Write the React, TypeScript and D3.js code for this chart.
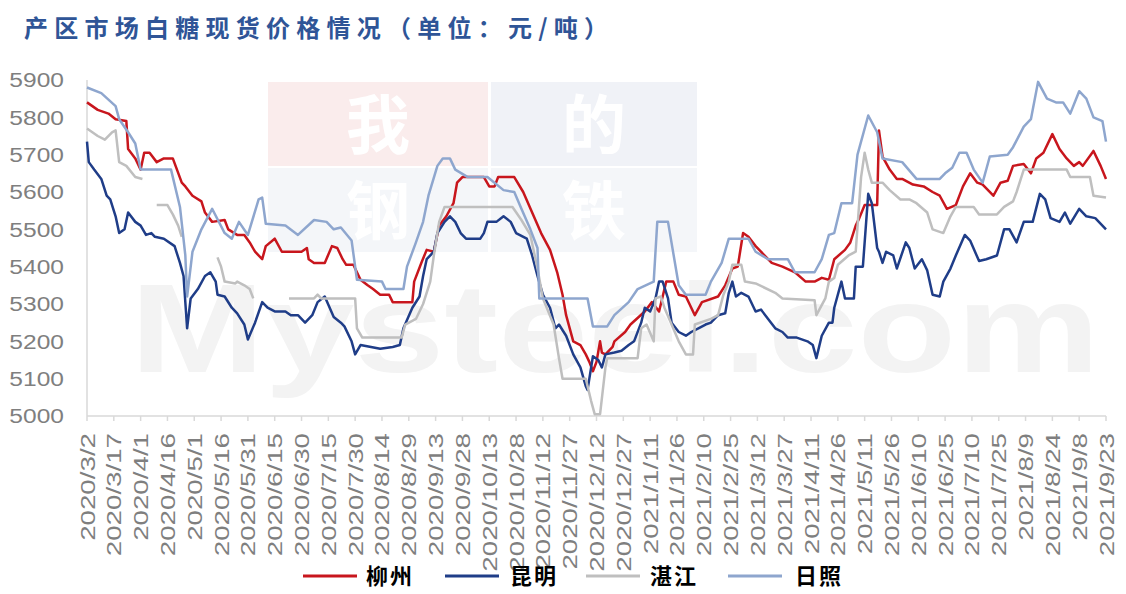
import React from "react";
import * as d3 from "d3";

type Pt = [string, number | null];

const title = "产区市场白糖现货价格情况（单位：元/吨）";
const seriesNames = ["柳州", "昆明", "湛江", "日照"];
const seriesColors = ["#C8161D", "#1F3D88", "#BFBFBF", "#8EA6CE"];
const yTicks = [5000, 5100, 5200, 5300, 5400, 5500, 5600, 5700, 5800, 5900];
const xTickLabels = [
  "2020/3/2", "2020/3/17", "2020/4/1", "2020/4/16", "2020/5/1", "2020/5/16", "2020/5/31",
  "2020/6/15", "2020/6/30", "2020/7/15", "2020/7/30", "2020/8/14", "2020/8/29", "2020/9/13",
  "2020/9/28", "2020/10/13", "2020/10/28", "2020/11/12", "2020/11/27", "2020/12/12",
  "2020/12/27", "2021/1/11", "2021/1/26", "2021/2/10", "2021/2/25", "2021/3/12", "2021/3/27",
  "2021/4/11", "2021/4/26", "2021/5/11", "2021/5/26", "2021/6/10", "2021/6/25", "2021/7/10",
  "2021/7/25", "2021/8/9", "2021/8/24", "2021/9/8", "2021/9/23",
];
const watermarkChars = ["我", "的", "钢", "铁"];
const watermarkText = "Mysteel.com";

const liuzhou: Pt[] = [
  ["2020/3/2",5840],["2020/3/8",5820],["2020/3/14",5810],["2020/3/18",5795],["2020/3/24",5790],["2020/3/25",5715],["2020/3/29",5690],["2020/4/1",5660],["2020/4/3",5705],["2020/4/6",5705],["2020/4/10",5680],["2020/4/14",5690],["2020/4/19",5690],["2020/4/24",5625],["2020/4/26",5615],["2020/4/30",5590],["2020/5/5",5575],["2020/5/7",5545],["2020/5/11",5520],["2020/5/18",5525],["2020/5/20",5500],["2020/5/25",5485],["2020/5/29",5485],["2020/6/1",5465],["2020/6/4",5440],["2020/6/8",5420],["2020/6/10",5455],["2020/6/15",5475],["2020/6/19",5440],["2020/6/30",5440],["2020/7/3",5450],["2020/7/4",5420],["2020/7/7",5410],["2020/7/13",5410],["2020/7/17",5455],["2020/7/20",5450],["2020/7/23",5420],["2020/7/25",5405],["2020/7/29",5405],["2020/8/2",5365],["2020/8/6",5350],["2020/8/9",5340],["2020/8/13",5325],["2020/8/18",5325],["2020/8/20",5305],["2020/8/31",5305],["2020/9/1",5360],["2020/9/5",5410],["2020/9/8",5445],["2020/9/12",5440],["2020/9/15",5510],["2020/9/19",5535],["2020/9/23",5570],["2020/9/25",5625],["2020/9/28",5640],["2020/10/10",5640],["2020/10/13",5615],["2020/10/16",5615],["2020/10/18",5640],["2020/10/27",5640],["2020/11/1",5600],["2020/11/6",5545],["2020/11/11",5490],["2020/11/16",5445],["2020/11/20",5385],["2020/11/23",5325],["2020/11/25",5270],["2020/11/29",5200],["2020/12/3",5190],["2020/12/6",5165],["2020/12/8",5145],["2020/12/10",5120],["2020/12/12",5145],["2020/12/14",5200],["2020/12/15",5170],["2020/12/17",5165],["2020/12/21",5185],["2020/12/22",5200],["2020/12/28",5225],["2020/12/31",5245],["2021/1/8",5280],["2021/1/12",5305],["2021/1/16",5280],["2021/1/20",5360],["2021/1/24",5360],["2021/1/27",5325],["2021/1/31",5320],["2021/2/5",5270],["2021/2/9",5305],["2021/2/18",5320],["2021/2/22",5350],["2021/2/26",5395],["2021/3/1",5400],["2021/3/4",5490],["2021/3/7",5480],["2021/3/11",5455],["2021/3/14",5440],["2021/3/20",5410],["2021/3/26",5400],["2021/4/2",5385],["2021/4/8",5360],["2021/4/13",5360],["2021/4/17",5370],["2021/4/21",5365],["2021/4/24",5420],["2021/4/30",5445],["2021/5/3",5465],["2021/5/6",5510],["2021/5/8",5530],["2021/5/11",5565],["2021/5/18",5565],["2021/5/19",5765],["2021/5/21",5695],["2021/5/25",5660],["2021/5/29",5635],["2021/6/1",5635],["2021/6/7",5620],["2021/6/13",5615],["2021/6/18",5600],["2021/6/22",5590],["2021/6/26",5555],["2021/7/1",5565],["2021/7/5",5615],["2021/7/9",5650],["2021/7/13",5625],["2021/7/16",5620],["2021/7/22",5590],["2021/7/26",5625],["2021/7/30",5630],["2021/8/2",5670],["2021/8/8",5675],["2021/8/12",5650],["2021/8/15",5690],["2021/8/19",5705],["2021/8/24",5755],["2021/8/28",5715],["2021/9/1",5690],["2021/9/5",5670],["2021/9/8",5680],["2021/9/10",5670],["2021/9/16",5710],["2021/9/20",5670],["2021/9/23",5635],
];

const kunming: Pt[] = [
  ["2020/3/2",5735],["2020/3/3",5680],["2020/3/6",5660],["2020/3/10",5635],["2020/3/13",5590],["2020/3/15",5580],["2020/3/18",5535],["2020/3/20",5490],["2020/3/23",5500],["2020/3/25",5545],["2020/3/29",5520],["2020/4/1",5510],["2020/4/4",5485],["2020/4/7",5490],["2020/4/9",5480],["2020/4/14",5475],["2020/4/20",5455],["2020/4/23",5410],["2020/4/25",5375],["2020/4/27",5235],["2020/4/29",5315],["2020/5/3",5340],["2020/5/7",5375],["2020/5/10",5385],["2020/5/13",5360],["2020/5/14",5325],["2020/5/18",5320],["2020/5/22",5290],["2020/5/25",5275],["2020/5/29",5245],["2020/5/31",5205],["2020/6/4",5250],["2020/6/8",5305],["2020/6/11",5290],["2020/6/15",5280],["2020/6/21",5280],["2020/6/24",5270],["2020/6/28",5270],["2020/7/2",5250],["2020/7/6",5270],["2020/7/9",5305],["2020/7/13",5320],["2020/7/18",5265],["2020/7/22",5250],["2020/7/24",5240],["2020/7/28",5200],["2020/7/30",5165],["2020/8/2",5190],["2020/8/13",5180],["2020/8/20",5185],["2020/8/24",5190],["2020/8/26",5235],["2020/8/31",5290],["2020/9/4",5320],["2020/9/6",5375],["2020/9/8",5420],["2020/9/12",5440],["2020/9/14",5490],["2020/9/18",5520],["2020/9/21",5535],["2020/9/24",5520],["2020/9/27",5490],["2020/9/30",5475],["2020/10/8",5475],["2020/10/10",5490],["2020/10/12",5520],["2020/10/17",5520],["2020/10/21",5535],["2020/10/25",5520],["2020/10/28",5490],["2020/11/3",5475],["2020/11/6",5430],["2020/11/9",5375],["2020/11/12",5325],["2020/11/16",5290],["2020/11/19",5235],["2020/11/21",5245],["2020/11/25",5215],["2020/11/29",5165],["2020/12/3",5130],["2020/12/6",5080],["2020/12/7",5070],["2020/12/8",5100],["2020/12/10",5160],["2020/12/13",5150],["2020/12/15",5130],["2020/12/17",5165],["2020/12/22",5170],["2020/12/26",5175],["2020/12/30",5190],["2021/1/2",5200],["2021/1/6",5250],["2021/1/8",5290],["2021/1/11",5280],["2021/1/14",5315],["2021/1/16",5360],["2021/1/18",5360],["2021/1/21",5315],["2021/1/23",5250],["2021/1/27",5225],["2021/1/31",5215],["2021/2/3",5225],["2021/2/7",5235],["2021/2/11",5245],["2021/2/14",5250],["2021/2/18",5270],["2021/2/22",5275],["2021/2/24",5330],["2021/2/26",5360],["2021/2/28",5320],["2021/3/3",5330],["2021/3/7",5320],["2021/3/11",5280],["2021/3/14",5285],["2021/3/18",5260],["2021/3/22",5235],["2021/3/26",5225],["2021/3/29",5210],["2021/4/3",5210],["2021/4/9",5200],["2021/4/12",5190],["2021/4/14",5155],["2021/4/17",5215],["2021/4/21",5250],["2021/4/23",5250],["2021/4/24",5290],["2021/4/28",5360],["2021/4/30",5315],["2021/5/5",5315],["2021/5/6",5400],["2021/5/10",5400],["2021/5/13",5595],["2021/5/15",5570],["2021/5/18",5450],["2021/5/19",5440],["2021/5/21",5410],["2021/5/23",5440],["2021/5/27",5430],["2021/5/29",5395],["2021/6/3",5465],["2021/6/5",5450],["2021/6/8",5395],["2021/6/12",5420],["2021/6/15",5390],["2021/6/18",5325],["2021/6/22",5320],["2021/6/24",5360],["2021/6/28",5395],["2021/7/1",5430],["2021/7/6",5485],["2021/7/9",5470],["2021/7/14",5415],["2021/7/18",5420],["2021/7/24",5430],["2021/7/28",5500],["2021/7/31",5500],["2021/8/4",5465],["2021/8/8",5520],["2021/8/13",5520],["2021/8/17",5595],["2021/8/20",5580],["2021/8/23",5530],["2021/8/28",5520],["2021/8/31",5545],["2021/9/3",5515],["2021/9/8",5555],["2021/9/12",5535],["2021/9/17",5530],["2021/9/23",5500],
];

const zhanjiang: Pt[] = [
  ["2020/3/2",5770],["2020/3/8",5750],["2020/3/12",5740],["2020/3/16",5760],["2020/3/18",5765],["2020/3/20",5680],["2020/3/24",5670],["2020/3/29",5640],["2020/4/2",5635],["2020/4/6",null],
  ["2020/4/10",5565],["2020/4/16",5565],["2020/4/19",5540],["2020/4/22",5510],["2020/4/24",5480],["2020/5/5",null],
  ["2020/5/14",5425],["2020/5/16",5400],["2020/5/18",5360],["2020/5/24",5355],["2020/5/25",5360],["2020/5/29",5350],["2020/6/1",5340],["2020/6/3",5315],["2020/6/10",null],
  ["2020/6/23",5315],["2020/7/7",5315],["2020/7/9",5325],["2020/7/11",5315],["2020/7/30",5315],["2020/7/31",5235],["2020/8/3",5210],["2020/8/25",5210],["2020/8/27",5245],["2020/9/2",5260],["2020/9/6",5300],["2020/9/10",5360],["2020/9/12",5430],["2020/9/15",5520],["2020/9/18",5560],["2020/9/24",5560],["2020/10/26",5560],["2020/10/31",5525],["2020/11/5",5485],["2020/11/9",5395],["2020/11/12",5315],["2020/11/18",5245],["2020/11/21",5155],["2020/11/23",5100],["2020/12/6",5100],["2020/12/9",5040],["2020/12/11",5005],["2020/12/14",5005],["2020/12/17",5130],["2020/12/18",5155],["2021/1/4",5155],["2021/1/6",5235],["2021/1/9",5245],["2021/1/13",5200],["2021/1/14",5315],["2021/1/17",5320],["2021/1/19",5290],["2021/1/27",5200],["2021/1/31",5165],["2021/2/4",5165],["2021/2/5",5245],["2021/2/14",5260],["2021/2/18",5270],["2021/2/21",5325],["2021/2/24",5360],["2021/2/26",5405],["2021/3/3",5405],["2021/3/5",5360],["2021/3/11",5355],["2021/3/22",5330],["2021/3/26",5315],["2021/4/13",5310],["2021/4/14",5270],["2021/4/19",5315],["2021/4/21",5360],["2021/4/24",5370],["2021/4/26",5405],["2021/5/2",5430],["2021/5/6",5440],["2021/5/9",5640],["2021/5/11",5705],["2021/5/13",5660],["2021/5/15",5625],["2021/5/21",5625],["2021/5/25",5605],["2021/5/31",5580],["2021/6/5",5580],["2021/6/9",5570],["2021/6/15",5545],["2021/6/18",5500],["2021/6/24",5490],["2021/6/28",5535],["2021/7/1",5560],["2021/7/11",5560],["2021/7/14",5540],["2021/7/24",5540],["2021/7/28",5560],["2021/8/2",5575],["2021/8/4",5600],["2021/8/8",5660],["2021/9/1",5660],["2021/9/3",5640],["2021/9/14",5640],["2021/9/16",5590],["2021/9/23",5585],
];

const rizhao: Pt[] = [
  ["2020/3/2",5880],["2020/3/10",5865],["2020/3/18",5830],["2020/3/20",5795],["2020/3/25",5760],["2020/3/29",5730],["2020/4/1",5660],["2020/4/18",5660],["2020/4/23",5560],["2020/4/26",5430],["2020/4/27",5320],["2020/4/30",5440],["2020/5/5",5500],["2020/5/11",5555],["2020/5/18",5490],["2020/5/22",5475],["2020/5/26",5520],["2020/5/31",5485],["2020/6/6",5580],["2020/6/8",5585],["2020/6/10",5515],["2020/6/21",5510],["2020/6/28",5485],["2020/7/7",5525],["2020/7/14",5520],["2020/7/18",5500],["2020/7/22",5505],["2020/7/28",5470],["2020/7/31",5365],["2020/8/14",5360],["2020/8/16",5340],["2020/8/26",5340],["2020/8/28",5400],["2020/9/2",5465],["2020/9/6",5520],["2020/9/9",5590],["2020/9/14",5670],["2020/9/17",5690],["2020/9/21",5690],["2020/9/24",5660],["2020/10/1",5640],["2020/10/12",5640],["2020/10/21",5605],["2020/10/27",5600],["2020/10/31",5555],["2020/11/5",5500],["2020/11/9",5450],["2020/11/10",5315],["2020/12/7",5315],["2020/12/10",5240],["2020/12/18",5240],["2020/12/22",5270],["2020/12/30",5305],["2021/1/4",5340],["2021/1/13",5360],["2021/1/15",5520],["2021/1/21",5520],["2021/1/27",5350],["2021/1/31",5325],["2021/2/11",5325],["2021/2/14",5360],["2021/2/20",5410],["2021/2/24",5475],["2021/3/7",5475],["2021/3/11",5440],["2021/3/18",5420],["2021/3/29",5420],["2021/4/2",5385],["2021/4/13",5385],["2021/4/17",5420],["2021/4/21",5485],["2021/4/24",5490],["2021/4/28",5570],["2021/5/4",5570],["2021/5/7",5700],["2021/5/13",5805],["2021/5/18",5760],["2021/5/21",5690],["2021/6/1",5680],["2021/6/9",5635],["2021/6/22",5635],["2021/6/25",5650],["2021/6/29",5665],["2021/7/3",5705],["2021/7/7",5705],["2021/7/11",5660],["2021/7/16",5625],["2021/7/20",5695],["2021/7/30",5700],["2021/8/2",5720],["2021/8/8",5775],["2021/8/12",5795],["2021/8/16",5895],["2021/8/21",5850],["2021/8/26",5840],["2021/8/30",5840],["2021/9/3",5810],["2021/9/8",5870],["2021/9/12",5850],["2021/9/16",5800],["2021/9/21",5790],["2021/9/23",5735],
];

const seriesData = [liuzhou, kunming, zhanjiang, rizhao];

const W = 1126;
const H = 594;
const parse = d3.timeParse("%Y/%m/%d");

export default function App() {
  const x = d3
    .scaleTime()
    .domain([parse("2020/3/2") as Date, parse("2021/9/23") as Date])
    .range([87, 1106]);
  const y = d3.scaleLinear().domain([5000, 5900]).range([416, 80]);

  const line = d3
    .line<[Date, number | null]>()
    .defined((d) => d[1] !== null)
    .x((d) => x(d[0]))
    .y((d) => y(d[1] as number));

  const axisColor = "#D9D9D9";
  const labelColor = "#7F7F7F";
  const numFont = "'Liberation Sans', Arial, sans-serif";
  const cjkFont = "'Noto Sans CJK SC', sans-serif";

  const legendItems = [
    { lx: 303, tx: 366 },
    { lx: 445, tx: 510 },
    { lx: 586, tx: 650 },
    { lx: 728, tx: 795 },
  ];

  const wmBoxes = [
    { bx: 268, by: 82, w: 220, fill: "#FAECEC" },
    { bx: 491, by: 82, w: 206, fill: "#F0F2F7" },
    { bx: 268, by: 168, w: 220, fill: "#F4F6F9" },
    { bx: 491, by: 168, w: 206, fill: "#F4F6F9" },
  ];

  return (
    <svg
      width={W}
      height={H}
      viewBox={`0 0 ${W} ${H}`}
      style={{ position: "absolute", left: 0, top: 0, background: "#fff" }}
    >
      <rect x={0} y={0} width={W} height={H} fill="#fff" />
      {/* watermark */}
      <g>
        {wmBoxes.map((b, i) => (
          <g key={i}>
            <rect x={b.bx} y={b.by} width={b.w} height={84} fill={b.fill} />
            <text
              x={b.bx + b.w / 2}
              y={b.by + 66}
              textAnchor="middle"
              fontSize={64}
              fontWeight={700}
              fill="#fff"
              fontFamily={cjkFont}
            >
              {watermarkChars[i]}
            </text>
          </g>
        ))}
        <text
          x={130}
          y={372}
          fontSize={126}
          fontWeight={700}
          fill="#F3F3F3"
          fontFamily={numFont}
          textLength={970}
          lengthAdjust="spacingAndGlyphs"
        >
          {watermarkText}
        </text>
      </g>

      {/* title */}
      <text
        x={24}
        y={37}
        fontSize={24}
        fontWeight={700}
        fill="#2F5597"
        fontFamily={cjkFont}
        textLength={584}
        lengthAdjust="spacing"
      >
        {title}
      </text>

      {/* y labels */}
      {yTicks.map((t) => (
        <text
          key={t}
          transform={`translate(64,${y(t)}) scale(1.17,1)`}
          textAnchor="end"
          dy="0.35em"
          fontSize={21}
          fill={labelColor}
          fontFamily={numFont}
        >
          {t}
        </text>
      ))}

      {/* axes */}
      <line x1={87} x2={87} y1={y(5900)} y2={y(5000)} stroke={axisColor} strokeWidth={1.5} />
      <line x1={87} x2={1106} y1={y(5000)} y2={y(5000)} stroke={axisColor} strokeWidth={1.5} />
      {xTickLabels.map((s) => {
        const xv = x(parse(s) as Date);
        return (
          <g key={s}>
            <line x1={xv} x2={xv} y1={y(5000)} y2={y(5000) + 5} stroke={axisColor} strokeWidth={1.5} />
            <text
              transform={`translate(${xv + 7.5},433) rotate(-90) scale(1.32,1)`}
              textAnchor="end"
              fontSize={21}
              fill={labelColor}
              fontFamily={numFont}
            >
              {s}
            </text>
          </g>
        );
      })}

      {/* series */}
      {seriesData.map((data, i) => (
        <path
          key={seriesNames[i]}
          d={line(data.map((d) => [parse(d[0]) as Date, d[1]] as [Date, number | null])) || ""}
          fill="none"
          stroke={seriesColors[i]}
          strokeWidth={2.5}
          strokeLinejoin="round"
        />
      ))}

      {/* legend */}
      {seriesNames.map((n, i) => (
        <g key={n}>
          <line
            x1={legendItems[i].lx}
            x2={legendItems[i].lx + 54}
            y1={576}
            y2={576}
            stroke={seriesColors[i]}
            strokeWidth={3}
          />
          <text
            x={legendItems[i].tx}
            y={584}
            fontSize={22}
            fontWeight={700}
            fill="#000"
            fontFamily={cjkFont}
            letterSpacing={2}
          >
            {n}
          </text>
        </g>
      ))}
    </svg>
  );
}
